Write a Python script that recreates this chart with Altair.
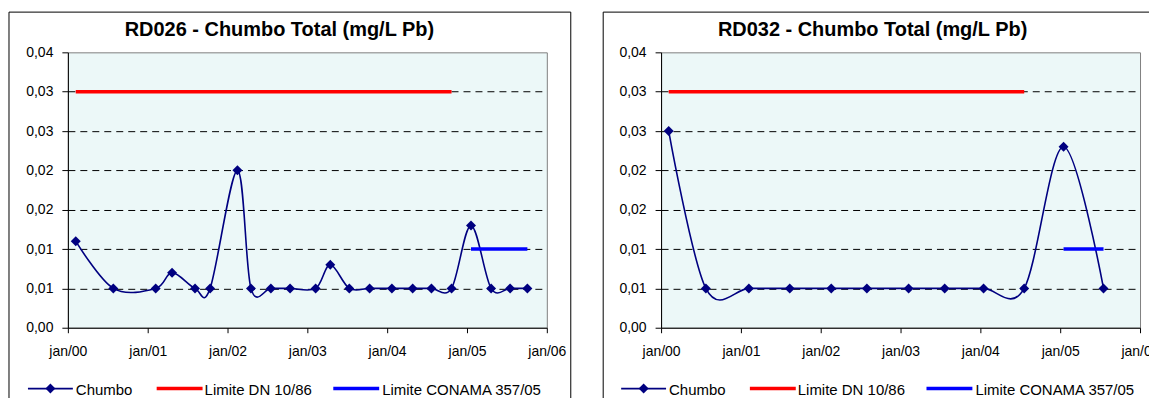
import altair as alt
import pandas as pd

FONT = "Liberation Sans"
NAVY = "#000080"
RED = "#FF0000"
BLUE = "#0000FF"

# ---------------- data ----------------
years = [2000, 2001, 2002, 2003, 2004, 2005, 2006]
y_ticks = [0.0, 0.005, 0.010, 0.015, 0.020, 0.025, 0.030, 0.035]

rd026_title = "RD026 - Chumbo Total (mg/L Pb)"
rd026_dates = ["2000-02-06", "2000-07-27", "2001-02-06", "2001-04-22", "2001-08-05",
               "2001-10-13", "2002-02-15", "2002-04-18", "2002-07-18", "2002-10-14",
               "2003-02-08", "2003-04-16", "2003-07-12", "2003-10-13", "2004-01-23",
               "2004-04-27", "2004-07-22", "2004-10-22", "2005-01-19", "2005-04-21",
               "2005-07-17", "2005-10-04"]
rd026_chumbo = [0.011, 0.005, 0.005, 0.007, 0.005, 0.005, 0.020, 0.005, 0.005, 0.005,
                0.005, 0.008, 0.005, 0.005, 0.005, 0.005, 0.005, 0.005, 0.013, 0.005,
                0.005, 0.005]
rd026_dn = [0.03, 0.03, 0.03, 0.03, 0.03, 0.03, 0.03, 0.03, 0.03, 0.03,
            0.03, 0.03, 0.03, 0.03, 0.03, 0.03, 0.03, 0.03, None, None,
            None, None]
rd026_conama = [None, None, None, None, None, None, None, None, None, None,
                None, None, None, None, None, None, None, None, 0.01, 0.01,
                0.01, 0.01]

rd032_title = "RD032 - Chumbo Total (mg/L Pb)"
rd032_dates = ["2000-02-05", "2000-07-24", "2001-02-06", "2001-08-12", "2002-02-18",
               "2002-07-31", "2003-02-07", "2003-07-22", "2004-01-16", "2004-07-20",
               "2005-01-16", "2005-07-18"]
rd032_chumbo = [0.025, 0.005, 0.005, 0.005, 0.005, 0.005, 0.005, 0.005, 0.005, 0.005,
                0.023, 0.005]
rd032_dn = [0.03, 0.03, 0.03, 0.03, 0.03, 0.03, 0.03, 0.03, 0.03, 0.03, None, None]
rd032_conama = [None, None, None, None, None, None, None, None, None, None, 0.01, 0.01]

legend_labels = ["Chumbo", "Limite DN 10/86", "Limite CONAMA 357/05"]

# ---------------- layout constants ----------------
W, H = 480, 276
ONE = alt.Data(values=[{}])


def panel(title, dates, chumbo, dn, conama, frame_left):
    df = pd.DataFrame({
        "data": [d + "T00:00" for d in dates],
        "chumbo": chumbo,
        "dn": dn,
        "conama": conama,
    })
    xscale = alt.Scale(domain=[alt.DateTime(year=2000, month=1, date=1),
                               alt.DateTime(year=2006, month=1, date=1)])
    yscale = alt.Scale(domain=[0, 0.035], nice=False, zero=True)
    xaxis = alt.Axis(
        values=[alt.DateTime(year=y, month=1, date=1) for y in years],
        labelExpr="'jan/' + timeFormat(datum.value, '%y')",
        title=None, grid=False, tickSize=5, labelPadding=23,
        labelBaseline="alphabetic", labelFlush=False, labelOverlap=False,
    )
    yaxis = alt.Axis(
        values=y_ticks,
        labelExpr="replace(format(round(datum.value*100 + 0.000001)/100, '.2f'), '.', ',')",
        title=None, grid=True, gridColor="#000000", gridDash=[7, 5], gridWidth=1,
        gridOpacity={"condition": {"test": "datum.value > 0.0349 || datum.value < 0.0001",
                                   "value": 0}, "value": 1},
        tickSize=6, labelPadding=9, labelFlush=False, labelOverlap=False,
    )
    X = alt.X("data:T", scale=xscale, axis=xaxis)

    def Y(field):
        return alt.Y(field + ":Q", scale=yscale, axis=yaxis)

    line = alt.Chart(df).mark_line(color=NAVY, strokeWidth=1.6, interpolate="cardinal").encode(
        x=X, y=Y("chumbo"))
    pts = alt.Chart(df).mark_point(shape="diamond", filled=True, size=100, color=NAVY,
                                   opacity=1).encode(x=X, y=Y("chumbo"))
    dn_line = alt.Chart(df).transform_filter("isValid(datum.dn)").mark_line(
        color=RED, strokeWidth=3.5).encode(x=X, y=Y("dn"))
    con_line = alt.Chart(df).transform_filter("isValid(datum.conama)").mark_line(
        color=BLUE, strokeWidth=3.5).encode(x=X, y=Y("conama"))

    frame = alt.Chart(ONE).mark_rect(filled=False, stroke="#000000", strokeWidth=1).encode(
        x=alt.value(frame_left), x2=alt.value(504), y=alt.value(-40.3), y2=alt.value(349))
    ttl = alt.Chart(ONE).mark_text(font=FONT, fontSize=20, fontWeight="bold", align="center",
                                   baseline="alphabetic", color="#000000").encode(
        x=alt.value(212), y=alt.value(-16.7), text=alt.value(title))

    ly = 337
    leg = [
        alt.Chart(ONE).mark_rule(color=NAVY, strokeWidth=1.6).encode(
            x=alt.value(-40), x2=alt.value(5), y=alt.value(ly)),
        alt.Chart(ONE).mark_point(shape="diamond", filled=True, size=100, color=NAVY,
                                  opacity=1).encode(x=alt.value(-17.5), y=alt.value(ly)),
        alt.Chart(ONE).mark_rule(color=RED, strokeWidth=3.5).encode(
            x=alt.value(89), x2=alt.value(135), y=alt.value(ly)),
        alt.Chart(ONE).mark_rule(color=BLUE, strokeWidth=3.5).encode(
            x=alt.value(266), x2=alt.value(312), y=alt.value(ly)),
    ]
    for lx, lab in zip([8, 137, 315], legend_labels):
        leg.append(alt.Chart(ONE).mark_text(font=FONT, fontSize=15, align="left",
                                            baseline="middle", color="#000000").encode(
            x=alt.value(lx), y=alt.value(ly + 1), text=alt.value(lab)))

    return alt.layer(frame, line, pts, dn_line, con_line, ttl, *leg).properties(
        width=W, height=H)


p1 = panel(rd026_title, rd026_dates, rd026_chumbo, rd026_dn, rd026_conama, -59)
p2 = panel(rd032_title, rd032_dates, rd032_chumbo, rd032_dn, rd032_conama, -58)

chart = alt.hconcat(p1, p2, spacing=30.5).properties(
    padding={"left": 0, "top": 2, "right": -16.5, "bottom": 0}
).configure_view(
    fill="#ECF8F8", stroke="#808080", strokeWidth=1
).configure_axis(
    domainColor="#000000", domainWidth=1, tickColor="#000000", tickWidth=1,
    labelFont=FONT, labelFontSize=14, labelColor="#000000"
)

chart.save("out.html", embed_options={"renderer": "svg", "actions": False})
